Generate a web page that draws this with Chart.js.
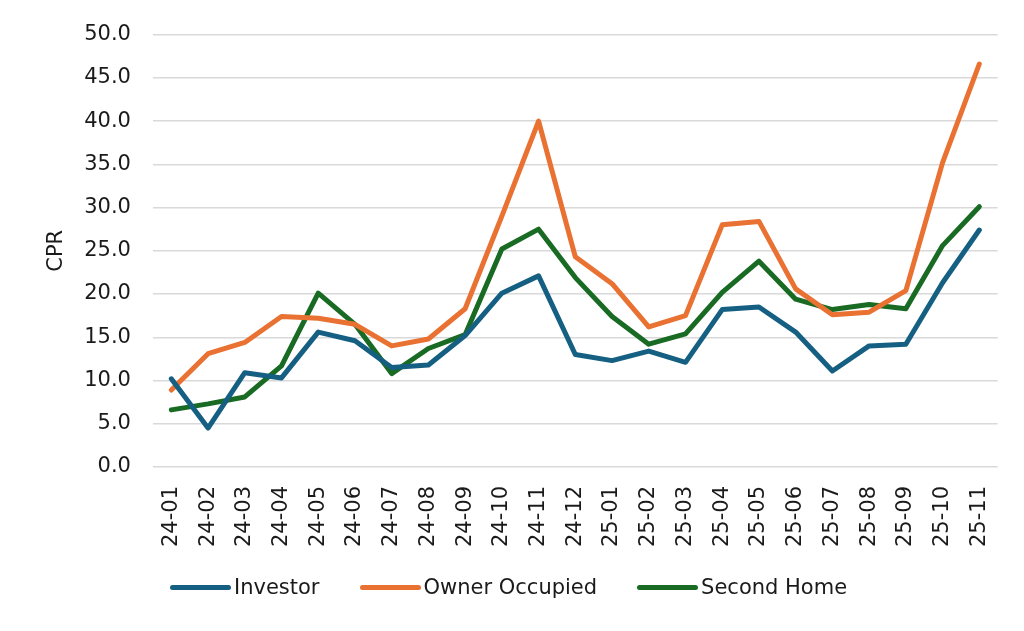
<!DOCTYPE html>
<html>
<head>
<meta charset="utf-8">
<script src="https://cdn.jsdelivr.net/npm/chart.js@4/dist/chart.umd.min.js"></script>
<style>
  html, body { margin: 0; padding: 0; background: #fff; }
  #wrap { width: 1024px; height: 631px; position: relative; }
  #legend { position: absolute; left: 170px; top: 574px; height: 26px; display: flex; align-items: center;
            font-family: 'DejaVu Sans', sans-serif; font-size: 21px; color: #1a1a1a; }
  #legend .item { display: flex; align-items: center; margin-right: 40px; }
  #legend .swatch { width: 61px; height: 5px; border-radius: 3px; margin-right: 3px; }
</style>
</head>
<body>
<div id="wrap"><canvas id="chart-line"></canvas><div id="legend"></div></div>
<script>
// months (yy-mm)
var months = ['24-01','24-02','24-03','24-04','24-05','24-06','24-07','24-08','24-09','24-10','24-11','24-12',
              '25-01','25-02','25-03','25-04','25-05','25-06','25-07','25-08','25-09','25-10','25-11'];

var investor = [10.2, 4.5, 10.9, 10.3, 15.6, 14.6, 11.5, 11.8, 15.2, 20.1, 22.1, 13.0,
                12.3, 13.4, 12.1, 18.2, 18.5, 15.6, 11.1, 14.0, 14.2, 21.3, 27.4];
var ownerOccupied = [8.9, 13.1, 14.4, 17.4, 17.2, 16.5, 14.0, 14.8, 18.3, 29.0, 40.0, 24.3,
                     21.2, 16.2, 17.5, 28.0, 28.4, 20.6, 17.6, 17.9, 20.4, 35.2, 46.6];
var secondHome = [6.6, 7.3, 8.1, 11.7, 20.1, 16.5, 10.8, 13.7, 15.3, 25.2, 27.5, 21.9,
                  17.4, 14.2, 15.4, 20.2, 23.8, 19.4, 18.2, 18.8, 18.3, 25.6, 30.1];

var fontFam = "'DejaVu Sans', sans-serif";

function lineSet(label, data, color) {
  return {
    label: label,
    data: data,
    borderColor: color,
    backgroundColor: color,
    borderWidth: 5,
    pointRadius: 0,
    tension: 0,
    fill: false,
    borderJoinStyle: 'round',
    borderCapStyle: 'round'
  };
}

var ctx = document.getElementById("chart-line").getContext("2d");
var chart = new Chart(ctx, {
  type: "line",
  data: {
    labels: months,
    datasets: [
      lineSet('Investor', investor, '#156082'),
      lineSet('Owner Occupied', ownerOccupied, '#E97132'),
      lineSet('Second Home', secondHome, '#196B24')
    ]
  },
  options: {
    responsive: true,
    maintainAspectRatio: false,
    animation: false,
    layout: {
      padding: { left: 44, right: 23, top: 16, bottom: 65 }
    },
    plugins: {
      tooltip: { enabled: false },
      legend: { display: false }
    },
    scales: {
      y: {
        min: 0,
        max: 50,
        border: { display: false },
        grid: {
          color: '#d9d9d9',
          lineWidth: 1.5,
          drawTicks: false
        },
        ticks: {
          stepSize: 5,
          padding: 22,
          color: '#1a1a1a',
          font: { size: 21, family: fontFam },
          callback: function (v) { return v.toFixed(1); }
        },
        title: {
          display: true,
          text: 'CPR',
          color: '#1a1a1a',
          padding: { top: 0, bottom: -7 },
          font: { size: 21, family: fontFam }
        }
      },
      x: {
        offset: true,
        border: { display: false },
        grid: { display: false, drawTicks: false },
        ticks: {
          autoSkip: false,
          minRotation: 90,
          maxRotation: 90,
          padding: 19,
          color: '#1a1a1a',
          font: { size: 21, family: fontFam }
        }
      }
    }
  }
});

// html legend built from the datasets
var legendBox = document.getElementById('legend');
chart.data.datasets.forEach(function (ds) {
  var item = document.createElement('div');
  item.className = 'item';
  var sw = document.createElement('div');
  sw.className = 'swatch';
  sw.style.background = ds.borderColor;
  var txt = document.createElement('span');
  txt.textContent = ds.label;
  item.appendChild(sw);
  item.appendChild(txt);
  legendBox.appendChild(item);
});
</script>
</body>
</html>
